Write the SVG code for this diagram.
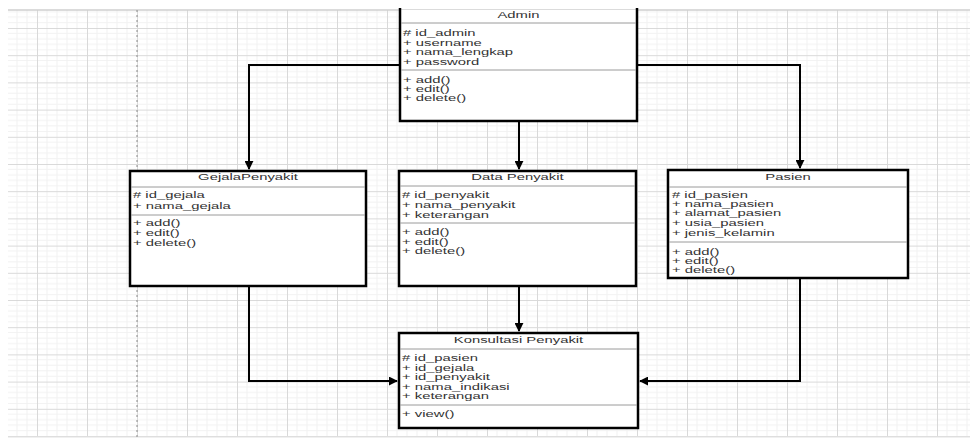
<svg xmlns="http://www.w3.org/2000/svg" width="970" height="444" viewBox="0 0 970 444">
<style>
.box{fill:#fff;stroke:#000;stroke-width:2.5}
.sep{stroke:#9a9a9a;stroke-width:1}
.t{font-family:"Liberation Sans",Arial,sans-serif;font-size:9px;fill:#333}
.ttl{text-anchor:middle}
.conn{fill:none;stroke:#000;stroke-width:2}
</style>
<defs>
<pattern id="grid" patternUnits="userSpaceOnUse" x="37" y="28" width="50" height="27.2">
<rect width="50" height="27.2" fill="#fff"/>
<path d="M10,0V27.2M20,0V27.2M30,0V27.2M40,0V27.2M0,5.44H50M0,10.88H50M0,16.32H50M0,21.76H50" stroke="#f2f2f2" stroke-width="1"/>
<path d="M0.5,0V27.2M0,0.5H50" stroke="#d9d9d9" stroke-width="1"/>
</pattern>
<marker id="arr" viewBox="0 0 10 10" refX="9" refY="5" markerWidth="4.5" markerHeight="4.5" orient="auto">
<path d="M0,0L10,5L0,10Z" fill="#000"/>
</marker>
</defs>
<rect width="970" height="444" fill="#fff"/>
<rect x="8" y="10" width="962" height="427" fill="url(#grid)"/>
<line x1="8" y1="10" x2="970" y2="10" stroke="#cfcfcf" stroke-width="1.5"/>
<line x1="8" y1="437" x2="970" y2="437" stroke="#e2e2e2" stroke-width="1"/>
<line x1="137" y1="10" x2="137" y2="437" stroke="#8a8a8a" stroke-width="1" stroke-dasharray="2,3"/>

<g id="connectors">
<path class="conn" d="M400,65H249V169" marker-end="url(#arr)"/>
<path class="conn" d="M637,65H800V168" marker-end="url(#arr)"/>
<path class="conn" d="M519,122V169" marker-end="url(#arr)"/>
<path class="conn" d="M519,287V331" marker-end="url(#arr)"/>
<path class="conn" d="M249,287V381H397" marker-end="url(#arr)"/>
<path class="conn" d="M800,279V381H640" marker-end="url(#arr)"/>
</g>

<g id="admin">
<rect x="400" y="10" width="237" height="111" fill="#fff"/>
<path d="M400,8V121H637V8" fill="none" stroke="#000" stroke-width="2.5"/>
<line class="sep" x1="401" y1="23" x2="636" y2="23"/>
<line class="sep" x1="401" y1="70" x2="636" y2="70"/>
<text class="t ttl" transform="translate(518.5 18) scale(1.65 1)">Admin</text>
<g class="t" transform="translate(403 0) scale(1.65 1)">
<text y="36"># id_admin</text>
<text y="46">+ username</text>
<text y="55">+ nama_lengkap</text>
<text y="65">+ password</text>
<text y="83">+ add()</text>
<text y="92">+ edit()</text>
<text y="101">+ delete()</text>
</g>
</g>

<g id="gejala">
<rect class="box" x="130" y="171" width="236" height="115"/>
<line class="sep" x1="131" y1="187" x2="365" y2="187"/>
<line class="sep" x1="131" y1="215" x2="365" y2="215"/>
<text class="t ttl" transform="translate(248 180) scale(1.65 1)">GejalaPenyakit</text>
<g class="t" transform="translate(133 0) scale(1.65 1)">
<text y="198"># id_gejala</text>
<text y="209">+ nama_gejala</text>
<text y="226">+ add()</text>
<text y="236">+ edit()</text>
<text y="246">+ delete()</text>
</g>
</g>

<g id="datapenyakit">
<rect class="box" x="399" y="171" width="237" height="115"/>
<line class="sep" x1="400" y1="186" x2="635" y2="186"/>
<line class="sep" x1="400" y1="223" x2="635" y2="223"/>
<text class="t ttl" transform="translate(517.5 180) scale(1.65 1)">Data Penyakit</text>
<g class="t" transform="translate(402 0) scale(1.65 1)">
<text y="198"># id_penyakit</text>
<text y="208">+ nama_penyakit</text>
<text y="218">+ keterangan</text>
<text y="235">+ add()</text>
<text y="245">+ edit()</text>
<text y="254">+ delete()</text>
</g>
</g>

<g id="pasien">
<rect class="box" x="668" y="170" width="240" height="108"/>
<line class="sep" x1="669" y1="187" x2="907" y2="187"/>
<line class="sep" x1="669" y1="242" x2="907" y2="242"/>
<text class="t ttl" transform="translate(788 180) scale(1.65 1)">Pasien</text>
<g class="t" transform="translate(672 0) scale(1.65 1)">
<text y="198"># id_pasien</text>
<text y="207">+ nama_pasien</text>
<text y="216">+ alamat_pasien</text>
<text y="226">+ usia_pasien</text>
<text y="236">+ jenis_kelamin</text>
<text y="255">+ add()</text>
<text y="264">+ edit()</text>
<text y="273">+ delete()</text>
</g>
</g>

<g id="konsultasi">
<rect class="box" x="399" y="333" width="239" height="95"/>
<line class="sep" x1="400" y1="349" x2="637" y2="349"/>
<line class="sep" x1="400" y1="405" x2="637" y2="405"/>
<text class="t ttl" transform="translate(518.5 343) scale(1.65 1)">Konsultasi Penyakit</text>
<g class="t" transform="translate(402 0) scale(1.65 1)">
<text y="361"># id_pasien</text>
<text y="371">+ id_gejala</text>
<text y="380">+ id_penyakit</text>
<text y="390">+ nama_indikasi</text>
<text y="399">+ keterangan</text>
<text y="417">+ view()</text>
</g>
</g>
</svg>
